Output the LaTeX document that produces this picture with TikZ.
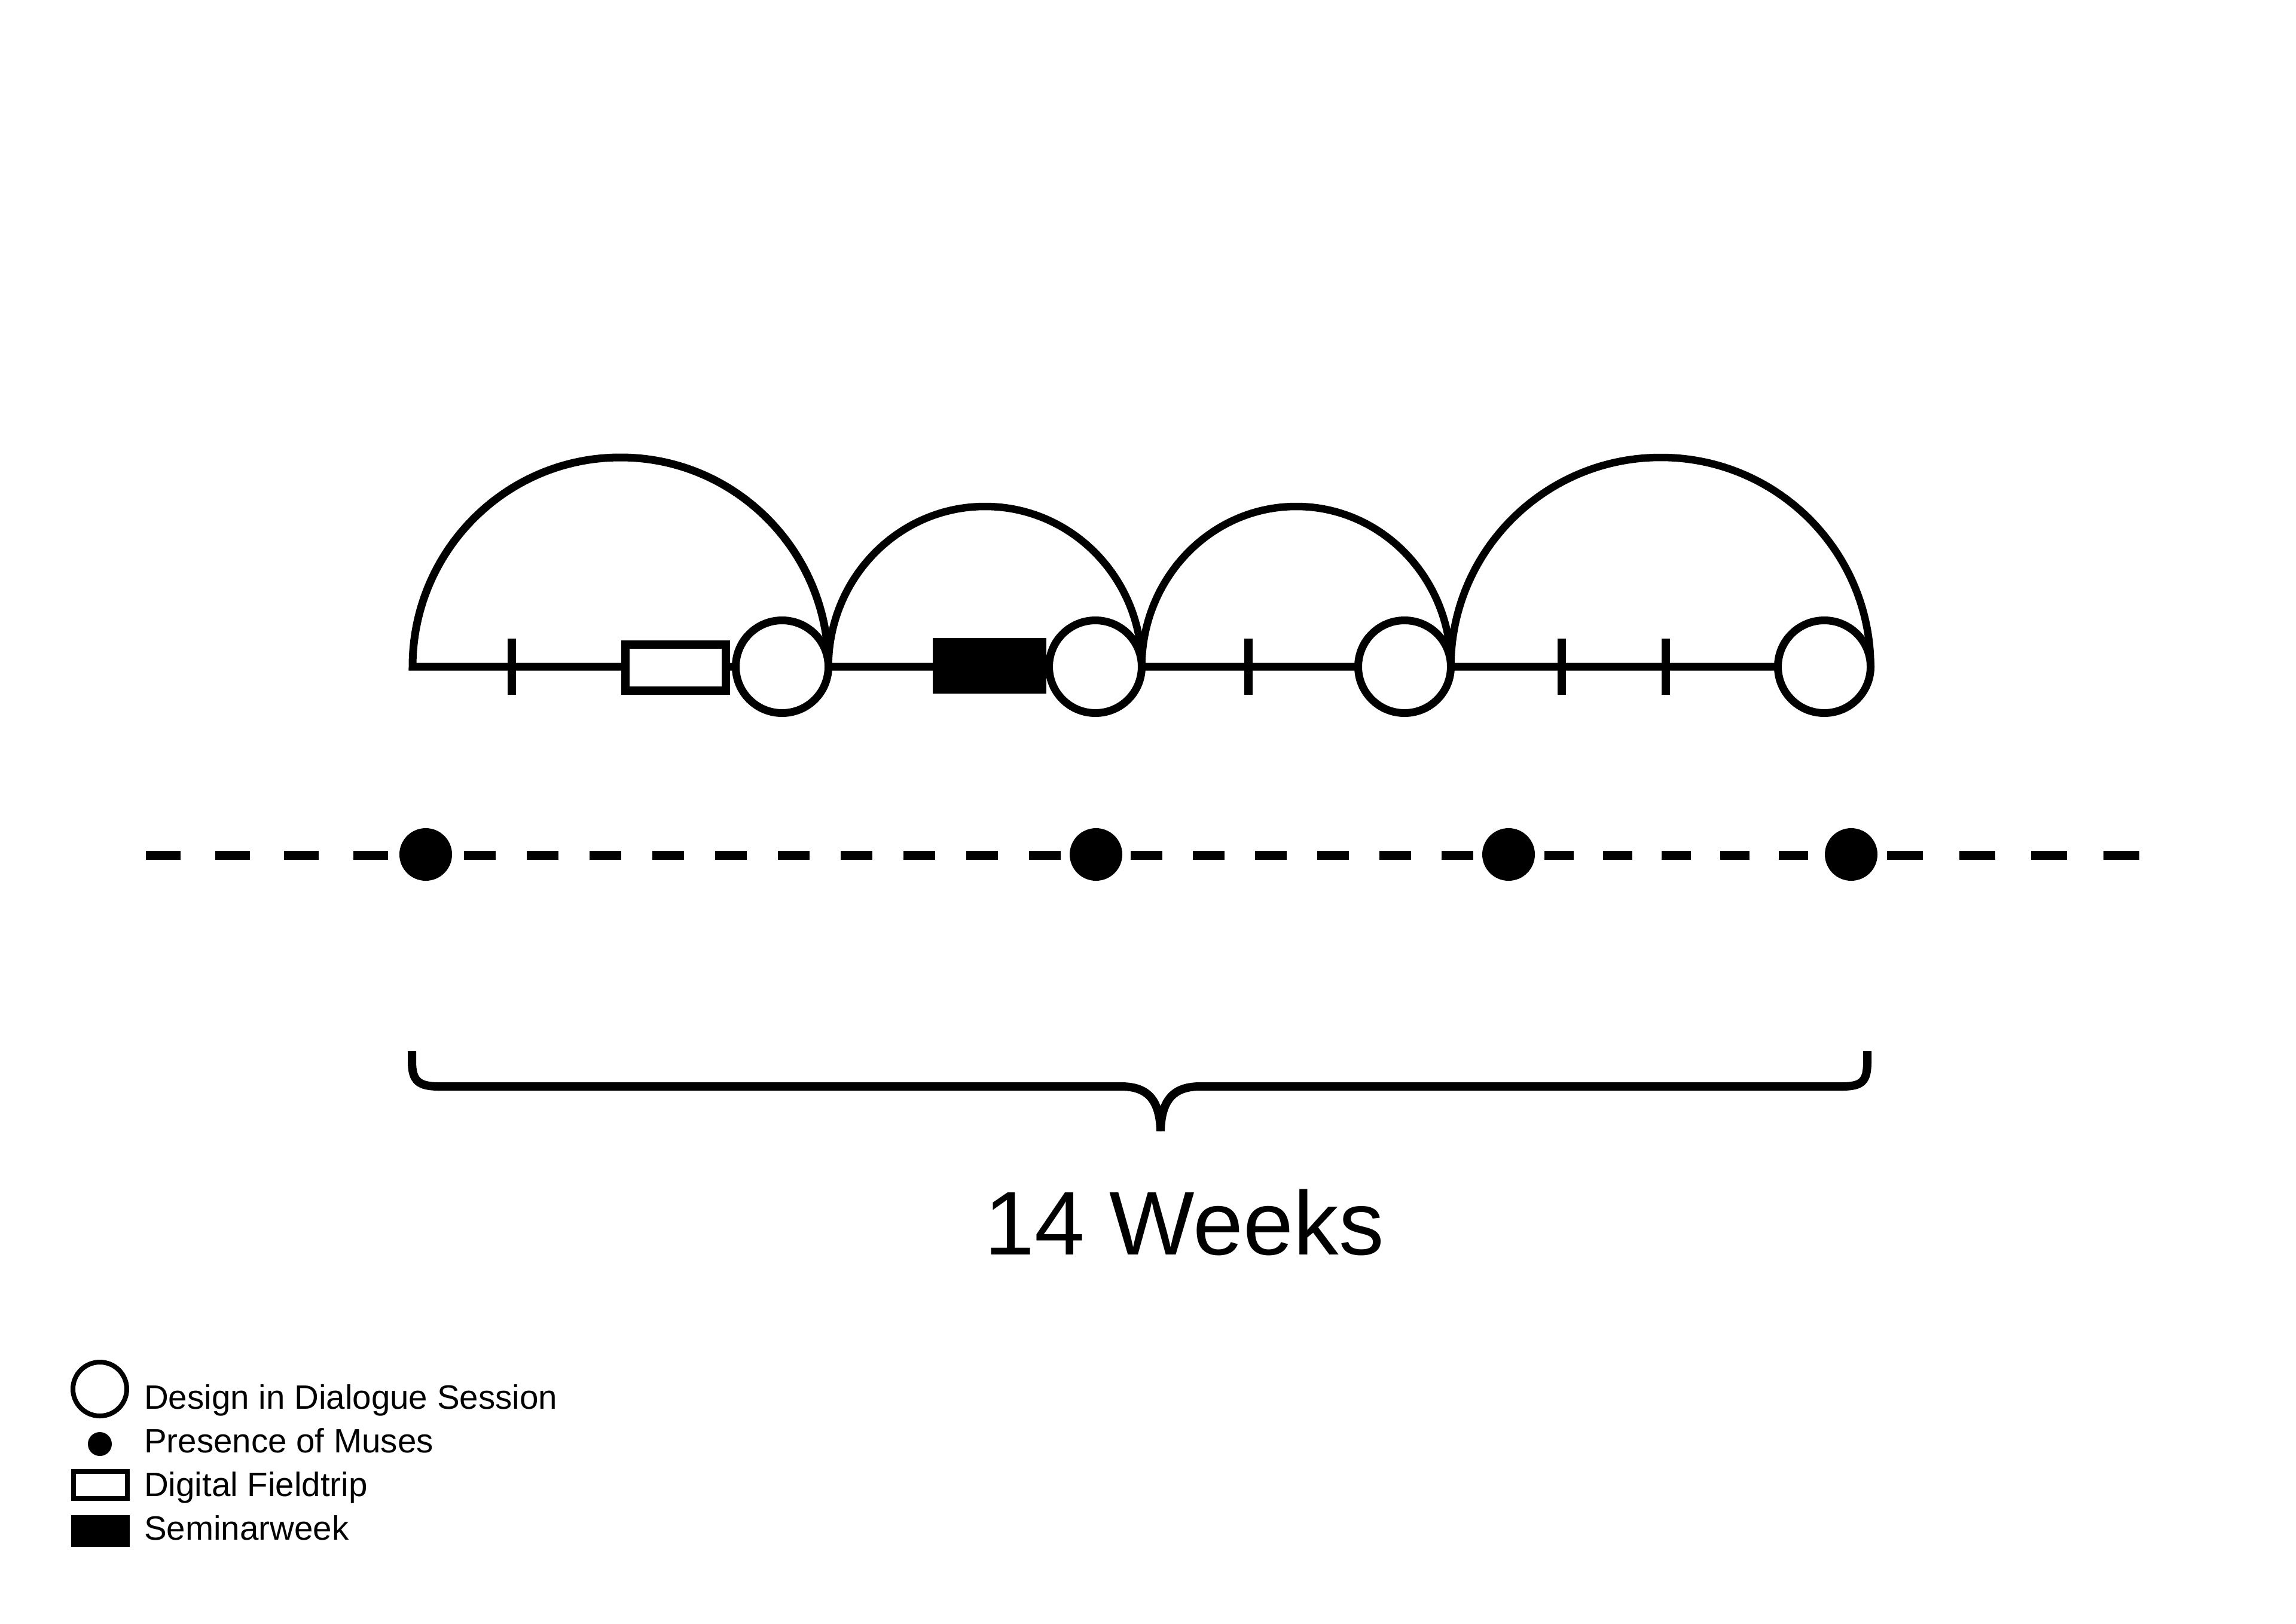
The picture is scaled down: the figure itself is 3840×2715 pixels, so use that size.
\documentclass[tikz,border=0pt]{standalone}
\usepackage{fontspec}
\setmainfont{Liberation Sans}
\begin{document}
\begin{tikzpicture}[x=1pt,y=-1pt,
  tl/.style={line width=13pt, line join=miter},
  arcline/.style={line width=12.5pt},
  tickmark/.style={line width=14pt},
  session/.style={circle, draw, fill=white, line width=13pt, minimum size=155pt, inner sep=0pt, outer sep=0pt},
  field/.style={rectangle, draw, fill=white, line width=14pt, minimum width=168pt, minimum height=77pt, inner sep=0pt, outer sep=0pt},
  seminar/.style={rectangle, fill=black, minimum width=190pt, minimum height=93pt, inner sep=0pt, outer sep=0pt},
  muse/.style={circle, fill=black, minimum size=88pt, inner sep=0pt, outer sep=0pt},
  dashline/.style={line width=15pt},
  bracepath/.style={line width=14pt, line cap=butt, line join=round},
  legtext/.style={anchor=base west, inner sep=0pt, font=\fontsize{56.5}{68}\selectfont},
]
\useasboundingbox[fill=white] (0,0) rectangle (3840,2715);

% timeline coordinates
\coordinate (start) at (690,1115);
\coordinate (c1) at (1308,1115);
\coordinate (c2) at (1832,1115);
\coordinate (c3) at (2349,1115);
\coordinate (c4) at (3051,1115);

% baseline and first arc
\draw[tl] (c4) -- (start) arc[start angle=180, end angle=360, x radius=347.75, y radius=350];

% ticks (weeks)
\foreach \x in {856,2088,2612,2786} \draw[tickmark] (\x,1068) -- (\x,1162);

% events
\node[field] (trip) at (1130,1116.5) {};
\node[seminar] (sem) at (1655,1113.5) {};
\node[session] (s1) at (c1) {};
\node[session] (s2) at (c2) {};
\node[session] (s3) at (c3) {};
\node[session] (s4) at (c4) {};

% arcs between sessions
\draw[arcline] (s1.east) arc[start angle=180, end angle=360, x radius=262, y radius=268];
\draw[arcline] (s2.east) arc[start angle=180, end angle=360, x radius=258.5, y radius=268];
\draw[arcline] (s3.east) arc[start angle=180, end angle=360, x radius=351, y radius=350];

% muses line
\draw[dashline, dash pattern=on 58pt off 57.67pt] (244,1430) -- (649,1430);
\draw[dashline, dash pattern=on 53pt off 52pt] (776,1430) -- (1774,1430);
\draw[dashline, dash pattern=on 53pt off 51pt] (1891,1430) -- (2464,1430);
\draw[dashline, dash pattern=on 49pt off 49pt] (2583,1430) -- (3024,1430);
\draw[dashline, dash pattern=on 60pt off 60.67pt] (3156,1430) -- (3578,1430);
\node[muse] (m1) at (712,1429) {};
\node[muse] (m2) at (1833,1429) {};
\node[muse] (m3) at (2523,1429) {};
\node[muse] (m4) at (3096,1429) {};

% brace
\coordinate (bl) at (689,1758);
\coordinate (tip) at (1941,1892);
\coordinate (br) at (3123,1758);
\draw[bracepath] (bl) -- (689,1775) .. controls (689,1808) and (700,1817) .. (735,1817) -- (1875,1817) .. controls (1915,1817) and (1940,1835) .. (tip);
\draw[bracepath] (tip) .. controls (1942,1835) and (1967,1817) .. (2007,1817) -- (3080,1817) .. controls (3115,1817) and (3123,1808) .. (3123,1775) -- (br);

\node[anchor=base west, inner sep=0pt, font=\fontsize{151}{180}\selectfont] (weeks) at (1646,2098) {14 Weeks};

% legend
\node[circle, draw, line width=8pt, minimum size=90pt, inner sep=0pt, outer sep=0pt] (lg1) at (167,2323) {};
\node[muse, minimum size=40pt] (lg2) at (167,2415) {};
\node[field, line width=8pt, minimum width=90pt, minimum height=45pt] (lg3) at (168,2483.5) {};
\node[seminar, minimum width=98pt, minimum height=53pt] (lg4) at (168,2560.5) {};
\node[legtext] (t1) at (241,2356) {Design in Dialogue Session};
\node[legtext] (t2) at (241,2429) {Presence of Muses};
\node[legtext] (t3) at (241,2502) {Digital Fieldtrip};
\node[legtext] (t4) at (241,2575) {Seminarweek};
\end{tikzpicture}
\end{document}
